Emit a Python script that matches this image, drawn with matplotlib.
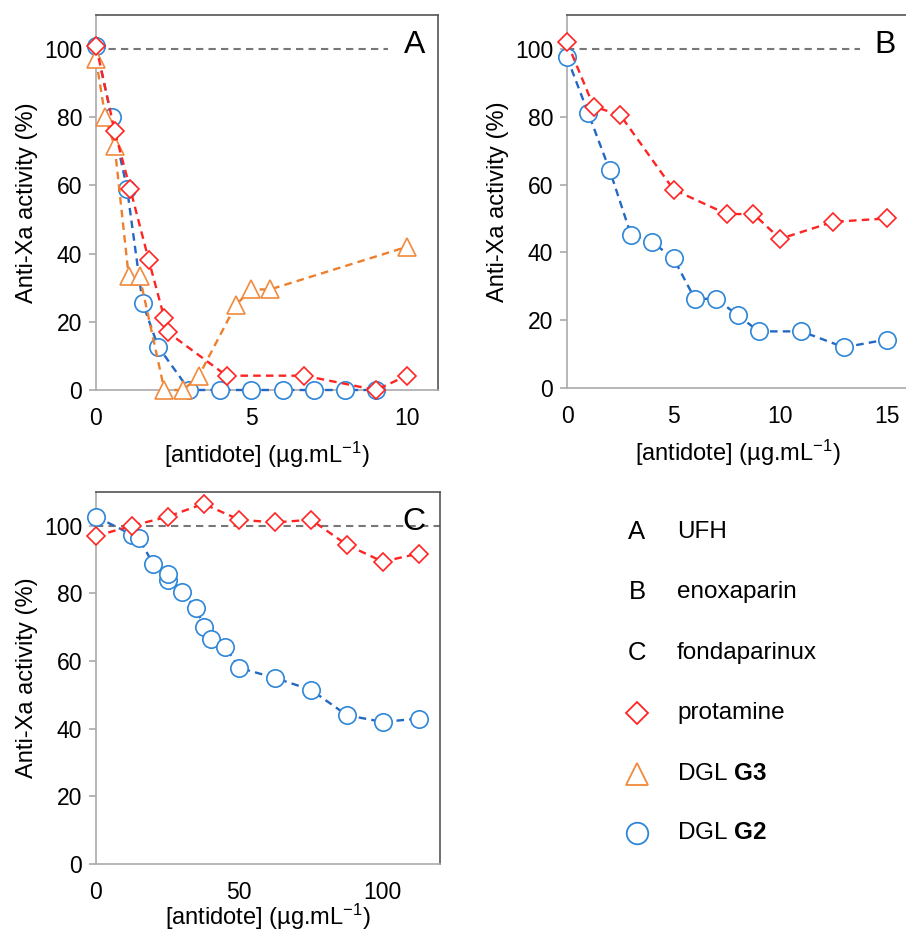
import matplotlib
matplotlib.use("Agg")
import matplotlib.pyplot as plt
from matplotlib.lines import Line2D

plt.rcParams['font.family'] = ['Liberation Sans', 'DejaVu Sans']
plt.rcParams['mathtext.fontset'] = 'custom'
plt.rcParams['mathtext.rm'] = 'Liberation Sans'
plt.rcParams['mathtext.bf'] = 'Liberation Sans:bold'
plt.rcParams['mathtext.it'] = 'Liberation Sans:italic'

# ---- Data ----
# Panel A (UFH)
a_prot_x = [0, 0.6, 1.1, 1.7, 2.2, 2.3, 4.2, 6.7, 9.0, 10]
a_prot_y = [101, 76, 59, 38, 21, 17, 4.2, 4.2, 0, 4.2]
a_g3_x = [0, 0.3, 0.6, 1.05, 1.4, 2.2, 2.8, 3.3, 4.5, 5.0, 5.6, 10]
a_g3_y = [97, 80, 71.5, 33.5, 33.5, 0, 0, 4, 25, 29.5, 29.5, 42]
a_g2_x = [0, 0.5, 1.0, 1.5, 2.0, 3, 4, 5, 6, 7, 8, 9]
a_g2_y = [101, 80, 59, 25.5, 12.7, 0, 0, 0, 0, 0, 0, 0]

# Panel B (enoxaparin)
b_prot_x = [0, 1.25, 2.5, 5, 7.5, 8.75, 10, 12.5, 15]
b_prot_y = [102, 83, 80.5, 58.5, 51.3, 51.3, 44, 49, 50]
b_g2_x = [0, 1, 2, 3, 4, 5, 6, 7, 8, 9, 11, 13, 15]
b_g2_y = [97.5, 81, 64.3, 45.2, 43, 38.2, 26.3, 26.3, 21.5, 16.7, 16.7, 12, 14.3]

# Panel C (fondaparinux)
c_prot_x = [0, 12.5, 25, 37.5, 50, 62.5, 75, 87.5, 100, 112.5]
c_prot_y = [97, 100, 102.7, 106.5, 101.8, 101, 101.8, 94.4, 89.4, 91.8]
c_g2_x = [0, 12.5, 15, 20, 25, 25, 30, 35, 37.5, 40, 45, 50, 62.5, 75, 87.5, 100, 112.5]
c_g2_y = [102.7, 97.4, 96.3, 88.6, 84, 85.8, 80.3, 75.6, 70.2, 66.4, 64.3, 58, 55, 51.5, 44, 42, 43]

RED = '#ff2424'
ORANGE = '#f08a3c'
BLUE = '#2e86d8'
BLUE_LINE = '#2368c4'
ORANGE_LINE = '#ee7f2d'

W, H = 906, 936
fig = plt.figure(figsize=(W / 100, H / 100), dpi=100)

def px_axes(left, right, top, bottom):
    return fig.add_axes([left / W, (H - bottom) / H, (right - left) / W, (bottom - top) / H])

FS_TICK = 16.5
FS_LAB = 17
FS_LEG = 17.5
dash = (3.2, 2.2)

def style(ax, xlim, xticks, ref_xmax, letter, letter_pos, xpad=7):
    ax.set_xlim(*xlim)
    ax.set_ylim(0, 110)
    ax.set_yticks([0, 20, 40, 60, 80, 100])
    ax.set_xticks(xticks)
    for s in ['left', 'bottom']:
        ax.spines[s].set_color('#aaaaaa')
        ax.spines[s].set_linewidth(1.2)
    for s in ['top', 'right']:
        ax.spines[s].set_color('#555555')
        ax.spines[s].set_linewidth(1.2)
    ax.tick_params(axis='y', direction='out', length=5, width=1.2, color='#aaaaaa',
                   labelsize=FS_TICK, pad=5)
    ax.tick_params(axis='x', length=0, labelsize=FS_TICK, pad=12)
    ax.set_ylabel('Anti-Xa activity (%)', fontsize=FS_LAB, labelpad=4)
    ax.set_xlabel('[antidote] (µg.mL$^{-1}$)', fontsize=FS_LAB, labelpad=xpad)
    ax.axhline(100, xmin=0, xmax=ref_xmax, color='#777777', lw=1.5, ls=(0, (3.5, 2.5)), zorder=1)
    ax.text(letter_pos[0], letter_pos[1], letter, transform=ax.transAxes, fontsize=23,
            ha='center', va='center')

def plot_series(ax, x, y, marker, ms, mec, lc, z):
    ax.plot(x, y, ls=(0, dash), lw=1.7, color=lc, marker=marker, ms=ms, mfc='white',
            mec=mec, mew=1.2, zorder=z, clip_on=False)

# Panel A
axA = px_axes(96, 438, 15, 390)
plot_series(axA, a_g2_x, a_g2_y, 'o', 12.5, BLUE, BLUE_LINE, 3)
plot_series(axA, a_g3_x, a_g3_y, '^', 12.5, ORANGE, ORANGE_LINE, 4)
plot_series(axA, a_prot_x, a_prot_y, 'D', 9.5, RED, RED, 5)
style(axA, (0, 11), [0, 5, 10], 0.855, 'A', ((415 - 96) / 342, 1 - (45 - 15) / 375))

# Panel B
axB = px_axes(567, 908, 15, 388)
plot_series(axB, b_g2_x, b_g2_y, 'o', 12.5, BLUE, BLUE_LINE, 3)
plot_series(axB, b_prot_x, b_prot_y, 'D', 9.5, RED, RED, 5)
style(axB, (0, 16), [0, 5, 10, 15], (860 - 567) / 341, 'B', ((885 - 567) / 341, 1 - (45 - 15) / 373))

# Panel C
axC = px_axes(96, 440, 492, 864)
plot_series(axC, c_prot_x, c_prot_y, 'D', 9.5, RED, RED, 5)
plot_series(axC, c_g2_x, c_g2_y, 'o', 12.5, BLUE, BLUE_LINE, 4)
style(axC, (0, 120), [0, 50, 100], 1.0, 'C', ((414 - 96) / 344, 1 - (522 - 492) / 372), xpad=-1.5)

# Legend
leg_letters = ['A', 'B', 'C']
leg_names = ['UFH', 'enoxaparin', 'fondaparinux']
leg_series = ['protamine', r'DGL $\mathbf{G3}$', r'DGL $\mathbf{G2}$']
leg_markers = ['D', '^', 'o']
leg_colors = [RED, ORANGE, BLUE]
leg_ms = [11.5, 16, 15.5]
ys = [532, 592, 653, 713, 774, 833]
mx, tx = 637, 677
for i, (l, n) in enumerate(zip(leg_letters, leg_names)):
    fig.text(mx / W, 1 - ys[i] / H, l, fontsize=FS_LEG + 1, ha='center', va='center')
    fig.text(tx / W, 1 - ys[i] / H, n, fontsize=FS_LEG, ha='left', va='center')
for j, (n, m, c, s) in enumerate(zip(leg_series, leg_markers, leg_colors, leg_ms)):
    yy = 1 - ys[3 + j] / H
    fig.add_artist(Line2D([mx / W], [yy], transform=fig.transFigure, marker=m, ms=s,
                          mfc='white', mec=c, mew=1.3, ls='none'))
    fig.text(tx / W, yy, n, fontsize=FS_LEG, ha='left', va='center')

fig.savefig('out.png', dpi=100)
